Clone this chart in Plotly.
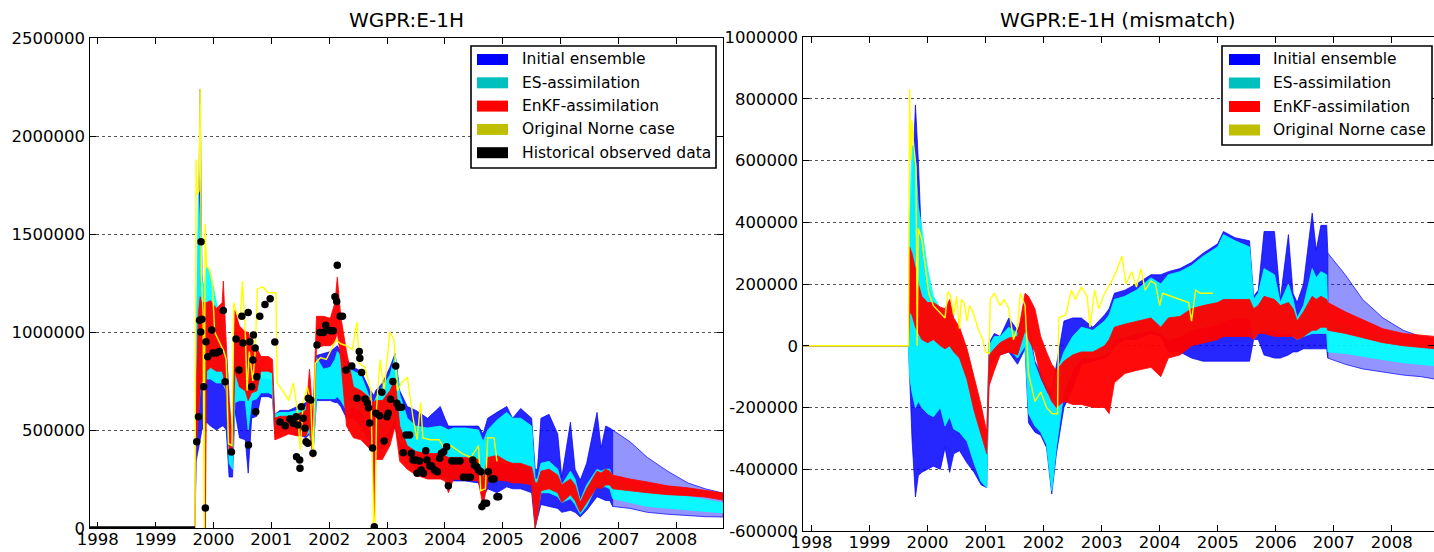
import plotly.graph_objects as go

W, H = 1434, 552
FONT = "DejaVu Sans"
K = 1000  # series below are stored in thousands

# ---------------- left panel: WGPR:E-1H ----------------
T_L = [1997.86, 1999.68, 1999.70, 1999.74, 1999.77, 1999.80, 1999.84, 1999.86, 1999.88, 1999.95,
       2000.05, 2000.15, 2000.17, 2000.22, 2000.27, 2000.33, 2000.37, 2000.45, 2000.55, 2000.60,
       2000.66, 2000.75, 2000.82, 2000.95, 2001.02, 2001.06, 2001.15, 2001.30, 2001.45, 2001.60,
       2001.66, 2001.72, 2001.78, 2001.90, 2002.02, 2002.10, 2002.14, 2002.20, 2002.30, 2002.42,
       2002.55, 2002.68, 2002.76, 2002.78, 2002.80, 2002.92, 2003.05, 2003.14, 2003.22, 2003.35,
       2003.50, 2003.70, 2003.92, 2004.00, 2004.06, 2004.15, 2004.35, 2004.58, 2004.66, 2004.74,
       2004.90, 2005.07, 2005.17, 2005.31, 2005.50, 2005.56, 2005.60, 2005.66, 2005.80, 2005.95,
       2006.02, 2006.17, 2006.25, 2006.34, 2006.45, 2006.63, 2006.70, 2006.78, 2006.85, 2006.90,
       2007.20, 2007.50, 2007.85, 2008.20, 2008.50, 2008.81]

INI_LO_L = [0, 0, 340, 400, 450, 500, 520, 530, 540, 520,
            500, 520, 520, 500, 260, 260, 600, 460, 450, 280,
            560, 570, 670, 670, 660, 480, 490, 500, 480, 460,
            480, 380, 650, 650, 650, 640, 640, 620, 560, 560,
            520, 450, 420, 420, 420, 400, 460, 520, 400, 360,
            300, 280, 260, 260, 240, 240, 240, 230, 160, 200,
            180, 210, 200, 200, 180, 0, 50, 120, 110, 100,
            80, 90, 80, 56, 90, 160, 150, 140, 140, 110,
            100, 80, 70, 62, 58, 56]
INI_HI_L = [0, 0, 860, 1500, 2240, 1300, 1000, 900, 880, 860,
            860, 820, 820, 800, 600, 450, 1000, 900, 880, 860,
            820, 800, 760, 760, 750, 580, 600, 600, 620, 640,
            660, 560, 880, 890, 900, 920, 930, 900, 860, 820,
            800, 720, 680, 680, 700, 740, 820, 890, 700, 620,
            600, 560, 620, 560, 520, 520, 520, 520, 480, 560,
            590, 620, 560, 610, 560, 300, 300, 560, 580, 480,
            260, 540, 300, 245, 330, 590, 410, 520, 510, 500,
            440, 360, 290, 230, 200, 178]
ES_LO_L = [0, 0, 450, 600, 700, 740, 750, 760, 760, 760,
           740, 740, 730, 700, 330, 300, 640, 650, 650, 500,
           650, 660, 690, 690, 680, 485, 490, 500, 490, 470,
           490, 370, 660, 660, 660, 660, 670, 650, 600, 620,
           600, 500, 480, 480, 470, 450, 500, 560, 440, 410,
           380, 380, 380, 370, 360, 360, 360, 350, 200, 330,
           340, 330, 330, 330, 300, 0, 70, 180, 180, 160,
           130, 150, 120, 70, 110, 220, 210, 210, 200, 150,
           130, 110, 100, 90, 85, 77]
ES_HI_L = [0, 0, 860, 1720, 1500, 1250, 1250, 1300, 1330, 1300,
           1150, 1050, 1000, 900, 700, 420, 980, 960, 940, 900,
           860, 850, 810, 810, 800, 580, 590, 590, 600, 620,
           650, 540, 870, 810, 820, 860, 900, 880, 820, 800,
           780, 680, 640, 640, 660, 720, 780, 880, 680, 560,
           520, 510, 520, 510, 500, 510, 510, 500, 440, 500,
           550, 590, 560, 560, 520, 250, 250, 330, 340, 300,
           220, 290, 250, 140, 220, 300, 290, 300, 300, 260,
           220, 200, 180, 160, 145, 128]
ENKF_LO_L = [0, 0, 420, 560, 700, 750, 750, 0, 800, 820,
             800, 800, 780, 700, 400, 380, 800, 720, 700, 650,
             690, 700, 800, 800, 790, 450, 460, 480, 470, 470,
             520, 360, 920, 930, 930, 950, 1000, 860, 520, 460,
             450, 410, 400, 0, 350, 350, 420, 520, 340, 300,
             270, 250, 250, 240, 180, 250, 245, 240, 110, 240,
             245, 240, 230, 230, 220, 0, 60, 190, 200, 180,
             130, 170, 140, 80, 130, 210, 200, 220, 220, 200,
             190, 180, 170, 165, 158, 143]
ENKF_HI_L = [0, 0, 700, 1100, 1180, 1150, 1150, 1150, 1150, 1160,
             1120, 1150, 1260, 950, 650, 430, 1110, 1030, 1000, 1000,
             930, 920, 875, 875, 860, 560, 570, 570, 580, 600,
             810, 560, 1080, 1080, 1070, 1150, 1280, 1080, 900, 720,
             700, 670, 640, 640, 650, 650, 700, 760, 520, 420,
             390, 380, 380, 370, 360, 360, 360, 350, 250, 360,
             370, 340, 330, 330, 310, 230, 230, 290, 300, 270,
             220, 250, 220, 130, 200, 290, 280, 300, 290, 270,
             250, 235, 215, 205, 190, 178]

NORNE_T_L = [1997.86, 1999.68, 1999.70, 1999.72, 1999.75, 1999.77, 1999.79, 1999.82, 1999.84, 1999.855,
             1999.88, 1999.93, 1999.98, 2000.02, 2000.10, 2000.18, 2000.22, 2000.26, 2000.32, 2000.35,
             2000.40, 2000.46, 2000.50, 2000.55, 2000.58, 2000.62, 2000.68, 2000.72, 2000.76, 2000.85,
             2000.95, 2001.08, 2001.10, 2001.20, 2001.30, 2001.38, 2001.45, 2001.50, 2001.55, 2001.62,
             2001.68, 2001.72, 2001.76, 2001.85, 2001.95, 2002.05, 2002.12, 2002.20, 2002.30, 2002.40,
             2002.48, 2002.52, 2002.62, 2002.72, 2002.77, 2002.79, 2002.82, 2002.88, 2002.95, 2003.05,
             2003.12, 2003.18, 2003.25, 2003.35, 2003.45, 2003.52, 2003.58, 2003.62, 2003.75, 2003.90,
             2004.00, 2004.10, 2004.30, 2004.45, 2004.58, 2004.62, 2004.70, 2004.74, 2004.85, 2004.90]
NORNE_V_L = [0, 0, 1880, 1700, 1720, 2240, 1300, 1100, 0, 1550,
             1340, 1320, 1250, 1000, 950, 900, 860, 430, 420, 1150,
             1100, 1060, 1260, 1000, 700, 900, 750, 900, 1220, 1230,
             1200, 1200, 740, 700, 650, 740, 600, 400, 640, 720,
             650, 360, 840, 870, 860, 920, 960, 940, 930, 910,
             1050, 840, 820, 700, 0, 0, 620, 860, 700, 1000,
             960, 700, 740, 770, 560, 450, 640, 460, 450, 450,
             400, 420, 380, 360, 420, 190, 200, 460, 460, 340]

OBS_ZERO_T = [1997.86, 1999.68]
OBS_T = [1999.71, 1999.74, 1999.76, 1999.785, 1999.78, 1999.80, 1999.83, 1999.86, 1999.87, 1999.90,
         1999.97, 1999.99, 2000.05, 2000.10, 2000.17, 2000.20, 2000.31, 2000.39, 2000.44, 2000.49,
         2000.51, 2000.60, 2000.605, 2000.63, 2000.66, 2000.68, 2000.69, 2000.72, 2000.73, 2000.75,
         2000.80, 2000.89, 2000.98, 2001.06, 2001.15, 2001.24, 2001.32, 2001.38, 2001.43, 2001.435,
         2001.46, 2001.49, 2001.495, 2001.52, 2001.55, 2001.58, 2001.60, 2001.63, 2001.64, 2001.68,
         2001.72, 2001.79, 2001.84, 2001.90, 2001.94, 2001.96, 2002.03, 2002.07, 2002.10, 2002.13,
         2002.14, 2002.19, 2002.23, 2002.29, 2002.39, 2002.48, 2002.52, 2002.53, 2002.56, 2002.62,
         2002.66, 2002.68, 2002.70, 2002.75, 2002.78, 2002.81, 2002.87, 2002.91, 2002.95, 2003.00,
         2003.02, 2003.06, 2003.10, 2003.15, 2003.17, 2003.20, 2003.25, 2003.28, 2003.33, 2003.39,
         2003.42, 2003.45, 2003.50, 2003.52, 2003.56, 2003.59, 2003.63, 2003.67, 2003.69, 2003.74,
         2003.77, 2003.82, 2003.87, 2003.91, 2003.94, 2003.98, 2004.03, 2004.06, 2004.12, 2004.19,
         2004.26, 2004.32, 2004.38, 2004.44, 2004.48, 2004.51, 2004.55, 2004.58, 2004.62, 2004.64,
         2004.68, 2004.72, 2004.75, 2004.81, 2004.85, 2004.90, 2004.93]
OBS_V = [440, 568, 1060, 1460, 1000, 1065, 721, 102, 950, 874,
         1010, 893, 893, 900, 1110, 746, 388, 964, 806, 1080,
         944, 1100, 423, 950, 721, 857, 985, 918, 593, 772,
         1080, 1140, 1170, 949, 541, 522, 556, 534, 568, 364,
         525, 347, 305, 619, 560, 509, 440, 432, 662, 653,
         381, 934, 997, 997, 1035, 1010, 1007, 1007, 1180, 1155,
         1340, 1080, 1080, 806, 826, 662, 900, 866, 794, 658,
         638, 614, 536, 408, 7, 585, 573, 692, 444, 568,
         585, 657, 747, 826, 636, 616, 616, 384, 475, 475,
         381, 347, 347, 279, 342, 296, 279, 394, 347, 316,
         316, 296, 287, 356, 381, 389, 415, 216, 342, 342,
         342, 259, 259, 259, 347, 321, 313, 296, 287, 109,
         126, 126, 287, 250, 250, 160, 160]

# ---------------- right panel: WGPR:E-1H (mismatch) ----------------
T_R = [1997.84, 1999.67, 1999.69, 1999.73, 1999.79, 1999.84, 1999.90, 2000.00, 2000.10, 2000.22,
       2000.30, 2000.38, 2000.45, 2000.55, 2000.68, 2000.80, 2000.92, 2001.02, 2001.06, 2001.15,
       2001.25, 2001.40, 2001.55, 2001.68, 2001.74, 2001.85, 2001.95, 2002.05, 2002.14, 2002.22,
       2002.35, 2002.50, 2002.65, 2002.85, 2003.05, 2003.13, 2003.22, 2003.40, 2003.60, 2003.85,
       2004.02, 2004.15, 2004.35, 2004.55, 2004.75, 2005.00, 2005.10, 2005.30, 2005.55, 2005.62,
       2005.70, 2005.80, 2005.98, 2006.08, 2006.22, 2006.30, 2006.37, 2006.48, 2006.63, 2006.70,
       2006.78, 2006.88, 2006.90, 2007.20, 2007.50, 2007.85, 2008.20, 2008.50, 2008.75]

INI_LO_R = [0, 0, -110, -300, -490, -420, -410, -400, -390, -400,
            -330, -410, -350, -340, -380, -410, -450, -460, -70, -40,
            -30, -20, -60, -10, -250, -280, -290, -330, -480, -350,
            -200, -140, -60, -50, -40, -30, 0, 20, 20, 40,
            30, -20, -20, -40, -50, -50, -50, -50, -50, 20,
            20, -30, -40, -40, -30, -20, -20, -10, -10, -10,
            -10, -10, -40, -60, -75, -85, -95, -100, -108]
INI_HI_R = [0, 0, 420, 500, 780, 600, 320, 200, 140, 100,
            80, 110, 60, 20, -40, -150, -260, -320, 10, 40,
            30, 90, 50, 110, 60, -50, -90, -130, -150, -60,
            80, 90, 90, 60, 100, 120, 170, 180, 200, 230,
            230, 240, 250, 270, 300, 330, 370, 350, 340, 160,
            180, 370, 370, 150, 360, 170, 140, 200, 430, 310,
            390, 390, 300, 230, 150, 90, 50, 30, 20]
ES_LO_R = [0, 0, -100, -150, -200, -180, -200, -220, -230, -200,
           -260, -230, -270, -280, -310, -380, -440, -460, -60, -30,
           -20, -10, -40, 0, -220, -260, -280, -320, -470, -330,
           -150, -80, -40, -40, -30, -20, 20, 30, 40, 50,
           40, 20, 30, 50, 60, 70, 80, 90, 90, 20,
           40, 50, 50, 40, 40, 30, 20, 30, 40, 40,
           40, 40, -20, -25, -35, -45, -55, -60, -65]
ES_HI_R = [0, 0, 420, 650, 600, 450, 380, 250, 160, 120,
           100, 140, 60, 30, -20, -110, -240, -300, 0, 30,
           30, 60, 40, 90, 40, -60, -110, -150, -170, -90,
           -20, 30, 60, 50, 80, 100, 150, 160, 180, 220,
           200, 230, 240, 260, 290, 320, 360, 340, 320, 150,
           170, 250, 230, 140, 200, 150, 90, 130, 250, 220,
           240, 230, 90, 70, 50, 30, 15, 5, 0]
ENKF_LO_R = [0, 0, 110, 100, 60, 40, 20, 10, 20, 0,
             -10, 0, -20, -40, -110, -210, -290, -350, -130, -80,
             -30, -20, -30, 50, 20, -20, -100, -140, -180, -200,
             -180, -190, -190, -200, -200, -220, -120, -90, -80, -70,
             -100, -40, -30, 0, 10, 20, 30, 30, 30, 20,
             40, 40, 30, 30, 30, 30, 20, 30, 50, 50,
             60, 60, 50, 40, 25, 10, 0, -5, -10]
ENKF_HI_R = [0, 0, 320, 300, 250, 200, 160, 140, 140, 125,
             120, 150, 90, 60, -10, -100, -190, -280, -30, -10,
             10, 25, 30, 170, 160, 120, 30, -20, -60, -80,
             -50, -30, -20, -20, 0, 20, 60, 70, 80, 90,
             60, 90, 95, 120, 130, 140, 150, 150, 150, 120,
             130, 160, 150, 130, 140, 120, 80, 110, 160, 150,
             160, 150, 140, 110, 85, 55, 40, 35, 30]

NORNE_T_R = [1997.84, 1999.67, 1999.69, 1999.71, 1999.73, 1999.76, 1999.80, 1999.82, 1999.84, 1999.90,
             1999.97, 2000.02, 2000.10, 2000.20, 2000.30, 2000.35, 2000.40, 2000.45, 2000.50, 2000.55,
             2000.58, 2000.63, 2000.68, 2000.72, 2000.78, 2000.88, 2000.95, 2001.00, 2001.06, 2001.08,
             2001.15, 2001.25, 2001.32, 2001.40, 2001.48, 2001.55, 2001.60, 2001.68, 2001.74, 2001.85,
             2001.95, 2002.05, 2002.15, 2002.24, 2002.26, 2002.38, 2002.48, 2002.55, 2002.65, 2002.75,
             2002.80, 2002.88, 2002.95, 2003.05, 2003.15, 2003.25, 2003.35, 2003.42, 2003.52, 2003.60,
             2003.68, 2003.75, 2003.85, 2003.93, 2004.00, 2004.05, 2004.20, 2004.35, 2004.50, 2004.55,
             2004.62, 2004.70, 2004.92]
NORNE_V_R = [0, 0, 830, 600, 730, 650, 580, 0, 380, 345,
             240, 170, 130, 110, 90, 175, 160, 100, 160, 55,
             150, 140, 80, 130, 110, 50, 20, -20, -25, 150,
             170, 130, 150, 120, 20, 60, 170, 130, -90, -180,
             -150, -200, -220, -220, 90, 100, 180, 150, 190, 160,
             60, 180, 120, 170, 200, 240, 290, 200, 240, 190,
             250, 180, 210, 200, 130, 170, 160, 150, 140, 80,
             180, 170, 170]

# ---------------- axes ticks and legend ----------------
YEAR_TICKS = list(range(1998, 2009))
Y_TICKS_L = [0, 500000, 1000000, 1500000, 2000000, 2500000]
Y_TICKS_R = [-600000, -400000, -200000, 0, 200000, 400000, 600000, 800000, 1000000]
LEGEND_L = ["Initial ensemble", "ES-assimilation", "EnKF-assimilation",
            "Original Norne case", "Historical observed data"]
LEGEND_R = LEGEND_L[:4]
PATCH_COLORS = ["#0000ff", "#00bfbf", "#ff0000", "#bfbf00", "#000000"]
FORECAST_START = 2006.90

FILL_BLUE = "rgba(0,0,255,0.85)"
FILL_BLUE_FC = "rgba(0,0,255,0.42)"
FILL_CYAN = "rgba(0,255,255,0.92)"
FILL_RED = "rgba(255,0,0,0.96)"


def band(t, lo, hi, fill, edge, xa, ya):
    x = list(t) + list(t)[::-1]
    y = [v * K for v in hi] + [v * K for v in lo][::-1]
    return go.Scatter(x=x, y=y, mode="lines", fill="toself", fillcolor=fill,
                      line=dict(color=edge, width=0.8), hoverinfo="skip",
                      showlegend=False, xaxis=xa, yaxis=ya)


def blue_bands(t, lo, hi, xa, ya):
    i = next(k for k, v in enumerate(t) if v >= FORECAST_START)
    return [band(t[:i + 1], lo[:i + 1], hi[:i + 1], FILL_BLUE, "rgba(0,0,255,0.9)", xa, ya),
            band(t[i:], lo[i:], hi[i:], FILL_BLUE_FC, "rgba(0,0,255,0.9)", xa, ya)]


fig = go.Figure()

# left panel
for tr in blue_bands(T_L, INI_LO_L, INI_HI_L, "x", "y"):
    fig.add_trace(tr)
fig.add_trace(band(T_L, ES_LO_L, ES_HI_L, FILL_CYAN, "#00ffff", "x", "y"))
fig.add_trace(band(T_L, ENKF_LO_L, ENKF_HI_L, FILL_RED, "#ff0000", "x", "y"))
fig.add_trace(go.Scatter(x=NORNE_T_L, y=[v * K for v in NORNE_V_L], mode="lines",
                         line=dict(color="#ffff00", width=1.4), showlegend=False,
                         hoverinfo="skip", xaxis="x", yaxis="y"))
fig.add_trace(go.Scatter(x=OBS_ZERO_T, y=[0, 0], mode="lines",
                         line=dict(color="black", width=3.5), showlegend=False,
                         hoverinfo="skip", xaxis="x", yaxis="y"))
fig.add_trace(go.Scatter(x=OBS_T, y=[v * K for v in OBS_V], mode="markers",
                         marker=dict(color="black", size=7.5, line=dict(width=0)),
                         showlegend=False, hoverinfo="skip", xaxis="x", yaxis="y"))

# right panel
for tr in blue_bands(T_R, INI_LO_R, INI_HI_R, "x2", "y2"):
    fig.add_trace(tr)
fig.add_trace(band(T_R, ES_LO_R, ES_HI_R, FILL_CYAN, "#00ffff", "x2", "y2"))
fig.add_trace(band(T_R, ENKF_LO_R, ENKF_HI_R, FILL_RED, "#ff0000", "x2", "y2"))
fig.add_trace(go.Scatter(x=NORNE_T_R, y=[v * K for v in NORNE_V_R], mode="lines",
                         line=dict(color="#ffff00", width=1.4), showlegend=False,
                         hoverinfo="skip", xaxis="x2", yaxis="y2"))


def px(x):
    return x / W


def py(y):
    return 1 - y / H


tickfont = dict(family=FONT, size=16.5, color="black")
common_x = dict(tickmode="array", tickvals=YEAR_TICKS, ticktext=[str(v) for v in YEAR_TICKS],
                ticks="inside", ticklen=6, tickwidth=1, tickcolor="black",
                showline=True, linecolor="black", linewidth=1.2, mirror="ticks",
                showgrid=False, zeroline=False, tickfont=tickfont, automargin=False,
                ticklabelstandoff=-4)
common_y = dict(tickmode="array", ticks="inside", ticklen=6, tickwidth=1, tickcolor="black",
                showline=True, linecolor="black", linewidth=1.2, mirror="ticks",
                showgrid=True, gridcolor="#555555", griddash="dot", gridwidth=1,
                zeroline=False, tickfont=tickfont, automargin=False)

fig.update_layout(
    width=W, height=H, margin=dict(l=0, r=0, t=0, b=0, pad=0), autosize=False,
    paper_bgcolor="white", plot_bgcolor="white",
    font=dict(family=FONT, color="black"),
    xaxis=dict(domain=[px(89.5), px(723)], range=[1997.857, 2008.807], anchor="y", **common_x),
    yaxis=dict(domain=[py(528), py(38)], range=[0, 2500000], anchor="x",
               tickvals=Y_TICKS_L, ticktext=[str(v) for v in Y_TICKS_L], **common_y),
    xaxis2=dict(domain=[px(802.5), 1.0], range=[1997.843, 2008.73], anchor="y2", **common_x),
    yaxis2=dict(domain=[py(531), py(37)], range=[-600000, 1000000], anchor="x2",
                tickvals=Y_TICKS_R, ticktext=[str(v) for v in Y_TICKS_R], **common_y),
)

annotations = [
    dict(text="WGPR:E-1H", x=px(406), y=py(20), xref="paper", yref="paper",
         showarrow=False, font=dict(family=FONT, size=20), xanchor="center", yanchor="middle"),
    dict(text="WGPR:E-1H (mismatch)", x=px(1118), y=py(20), xref="paper", yref="paper",
         showarrow=False, font=dict(family=FONT, size=20), xanchor="center", yanchor="middle"),
]
shapes = []


def add_legend(labels, box, patch_x, text_x, row0, step):
    x0, y0, x1, y1 = box
    shapes.append(dict(type="rect", xref="paper", yref="paper", layer="above",
                       x0=px(x0), x1=px(x1), y0=py(y1), y1=py(y0),
                       line=dict(color="black", width=1.6), fillcolor="white"))
    for i, lab in enumerate(labels):
        yc = row0 + i * step
        shapes.append(dict(type="rect", xref="paper", yref="paper", layer="above",
                           x0=px(patch_x), x1=px(patch_x + 31), y0=py(yc + 5.5), y1=py(yc - 5.5),
                           line=dict(width=0), fillcolor=PATCH_COLORS[i]))
        annotations.append(dict(text=lab, x=px(text_x), y=py(yc), xref="paper", yref="paper",
                                showarrow=False, xanchor="left", yanchor="middle",
                                font=dict(family=FONT, size=15.5, color="black")))


add_legend(LEGEND_L, (471, 46, 716, 168), 477, 520, 59.5, 23.3)
add_legend(LEGEND_R, (1222, 46, 1432, 145), 1229, 1271, 59.5, 23.5)

fig.update_layout(annotations=annotations, shapes=shapes)
fig.write_html("out.html")
